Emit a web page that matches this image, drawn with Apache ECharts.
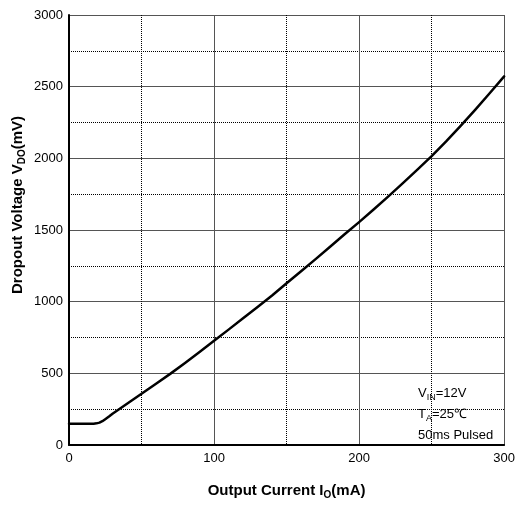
<!DOCTYPE html>
<html><head><meta charset="utf-8">
<script src="https://cdn.jsdelivr.net/npm/echarts@6/dist/echarts.min.js"></script>
<style>html,body{margin:0;padding:0;background:#fff}#c{width:518px;height:505px}</style>
</head><body><div id="c"></div>
<script>
const currents = [0, 10, 17, 19, 21, 23, 25, 28, 30, 40, 50, 60, 70, 80, 90, 100, 110, 120, 130, 140, 150, 160, 170, 180, 190, 200, 210, 220, 230, 240, 250, 260, 270, 280, 290, 300];
const voltages = [148, 148, 149, 151, 156, 166, 180, 202, 218, 288, 358, 428, 498, 572, 648, 727, 805, 884, 962, 1043, 1128, 1212, 1297, 1383, 1470, 1555, 1643, 1733, 1825, 1919, 2015, 2118, 2226, 2338, 2454, 2572];
const xTicks = [0, 100, 200, 300];
const yTicks = [0, 500, 1000, 1500, 2000, 2500, 3000];
const xTitle = ['Output Current I', 'O', '(mA)'];
const yTitle = ['Dropout Voltage V', 'DO', '(mV)'];
const notes = [['V', 'IN', '=12V'], ['T', 'A', '=25℃'], ['50ms Pulsed']];

const chart = echarts.init(document.getElementById('c'));
const F = '"Liberation Sans", Arial, sans-serif';
const titleRich = {
  b: {fontFamily: F, fontSize: 15, fontWeight: 'bold', color: '#000', fill: '#000'},
  s: {fontFamily: F, fontSize: 10, fontWeight: 'bold', color: '#000', fill: '#000', padding: [8, 0, 0, 0]}
};
const noteRich = {
  n: {fontFamily: F, fontSize: 13, fill: '#000'},
  s: {fontFamily: F, fontSize: 9, fill: '#000', padding: [8, 0, 0, 0]}
};
chart.setOption({
  animation: false,
  grid: {left: 69, right: 12, top: 15, bottom: 54, containLabel: false},
  xAxis: {
    type: 'value', min: xTicks[0], max: xTicks[xTicks.length-1], interval: 100,
    axisLine: {show: true, onZero: false, lineStyle: {color: '#000', width: 2}},
    axisTick: {show: false},
    axisLabel: {color: '#000', fontFamily: F, fontSize: 13, margin: 7},
    splitLine: {show: true, lineStyle: {color: '#555', width: 1}},
    minorTick: {show: false, splitNumber: 2},
    minorSplitLine: {show: true, lineStyle: {color: '#000', width: 1, type: [1, 1]}},
    name: '{b|' + xTitle[0] + '}{s|' + xTitle[1] + '}{b|' + xTitle[2] + '}',
    nameLocation: 'middle', nameGap: 37,
    nameTextStyle: {rich: titleRich}
  },
  yAxis: {
    type: 'value', min: yTicks[0], max: yTicks[yTicks.length-1], interval: 500,
    axisLine: {show: true, onZero: false, lineStyle: {color: '#000', width: 2}},
    axisTick: {show: false},
    axisLabel: {color: '#000', fontFamily: F, fontSize: 13, margin: 6, formatter: v => String(v)},
    splitLine: {show: true, lineStyle: {color: '#555', width: 1}},
    minorTick: {show: false, splitNumber: 2},
    minorSplitLine: {show: true, lineStyle: {color: '#000', width: 1, type: [1, 1]}}
  },
  series: [{
    type: 'line', data: currents.map((c, i) => [c, voltages[i]]),
    smooth: false, showSymbol: false, lineStyle: {color: '#000', width: 2.5, join: 'round', cap: 'round'}, z: 5
  }],
  graphic: [
    {type: 'text', x: 18, y: 205, rotation: Math.PI / 2, z: 10,
     style: {text: '{b|' + yTitle[0] + '}{s|' + yTitle[1] + '}{b|' + yTitle[2] + '}', rich: titleRich, align: 'center', verticalAlign: 'middle'}},
    {type: 'text', left: 418, top: 387, z: 10, style: {text: '{n|' + notes[0][0] + '}{s|' + notes[0][1] + '}{n|' + notes[0][2] + '}', rich: noteRich}},
    {type: 'text', left: 418, top: 408, z: 10, style: {text: '{n|' + notes[1][0] + '}{s|' + notes[1][1] + '}{n|' + notes[1][2] + '}', rich: noteRich}},
    {type: 'text', left: 418, top: 429, z: 10, style: {text: notes[2][0], fontFamily: F, fontSize: 13, fill: '#000'}}
  ]
});
</script></body></html>
